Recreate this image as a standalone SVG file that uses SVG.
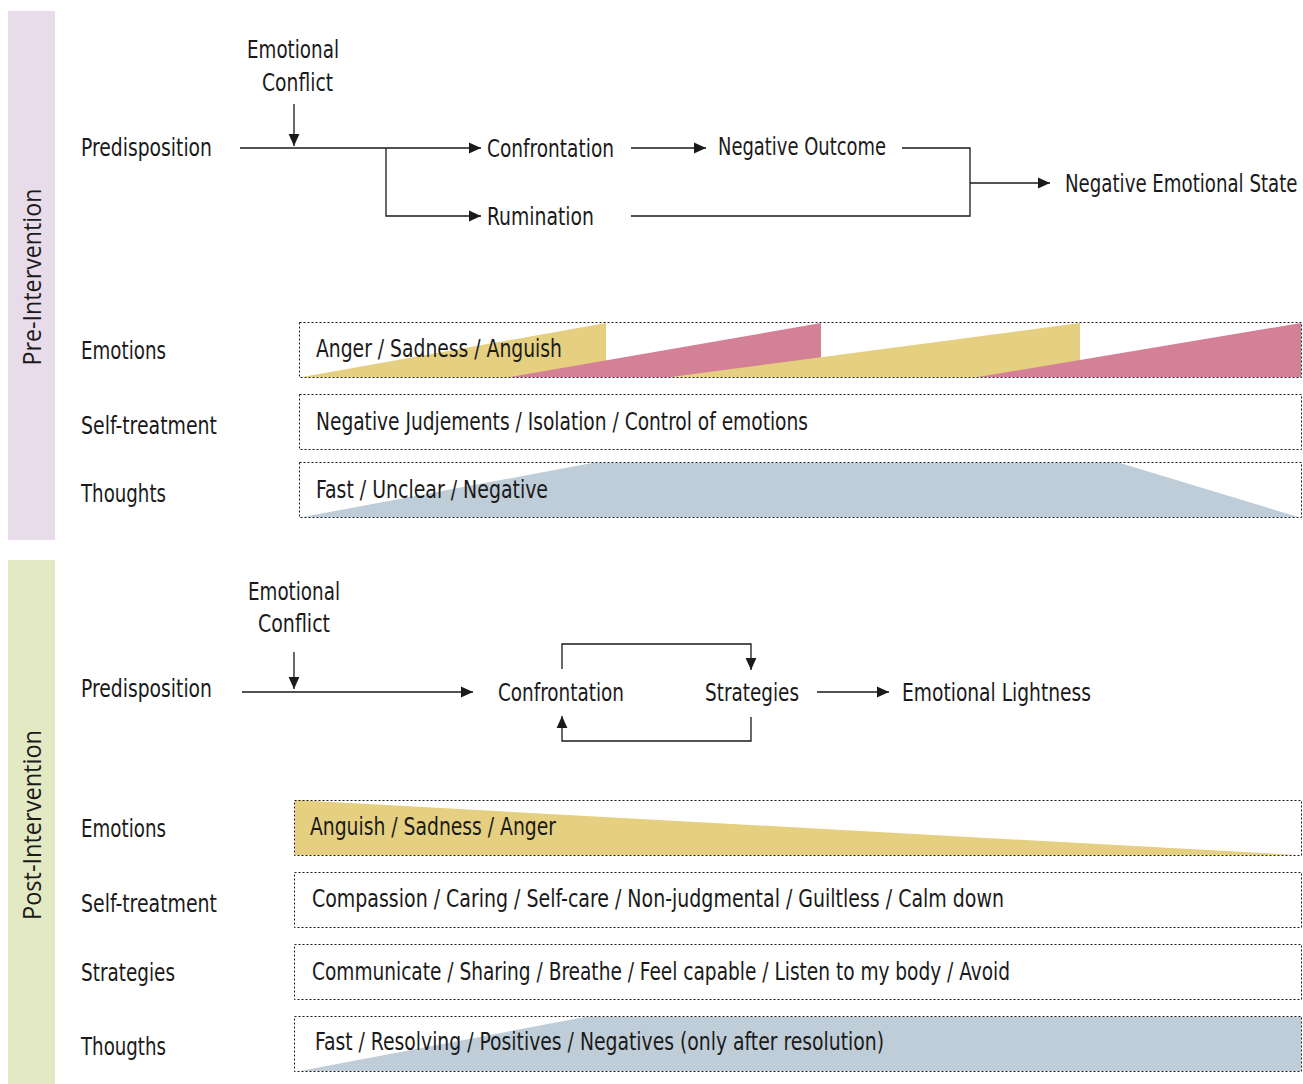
<svg xmlns="http://www.w3.org/2000/svg" width="1303" height="1084" viewBox="0 0 1303 1084">
<style>
  .t { font-family: "Liberation Sans Narrow", "DejaVu Sans Condensed", sans-serif; font-size: 25px; fill: #1a1a1a; }
  .side { font-family: "Open Sans", "Noto Sans", sans-serif; font-size: 26px; fill: #1a1a1a; }
  .box { fill: none; stroke: #1a1a1a; stroke-width: 1; stroke-dasharray: 2 2; }
  .conn { fill: none; stroke: #1a1a1a; stroke-width: 1.3; }
  .yel { fill: #e5cf80; }
  .pink { fill: #d48096; }
  .blue { fill: #bfcdd8; }
</style>
<defs>
  <marker id="arr" markerUnits="userSpaceOnUse" markerWidth="12" markerHeight="12" viewBox="0 0 10 10" refX="10" refY="5" orient="auto">
    <path d="M0,0.5 L10,5 L0,9.5 z" fill="#1a1a1a"/>
  </marker>
</defs>
<rect width="1303" height="1084" fill="#ffffff"/>

<g id="pre-section">
  <rect x="8" y="11" width="47" height="529" fill="#e8dcea"/>
  <text class="side" transform="translate(41,277) rotate(-90)" text-anchor="middle" textLength="177" lengthAdjust="spacingAndGlyphs">Pre-Intervention</text>
</g>
<g id="post-section">
  <rect x="8" y="560" width="47" height="524" fill="#e3e9c3"/>
  <text class="side" transform="translate(41,825) rotate(-90)" text-anchor="middle" textLength="190" lengthAdjust="spacingAndGlyphs">Post-Intervention</text>
</g>

<!-- Pre-intervention flow nodes -->
<g id="pre-emotional-conflict">
  <text class="t" x="247" y="58" textLength="92" lengthAdjust="spacingAndGlyphs">Emotional</text>
  <text class="t" x="262" y="91" textLength="71" lengthAdjust="spacingAndGlyphs">Conflict</text>
</g>
<g id="pre-predisposition"><text class="t" x="81" y="156" textLength="131" lengthAdjust="spacingAndGlyphs">Predisposition</text></g>
<g id="pre-confrontation"><text class="t" x="487" y="157" textLength="127" lengthAdjust="spacingAndGlyphs">Confrontation</text></g>
<g id="pre-rumination"><text class="t" x="487" y="225" textLength="107" lengthAdjust="spacingAndGlyphs">Rumination</text></g>
<g id="pre-negative-outcome"><text class="t" x="718" y="155" textLength="168" lengthAdjust="spacingAndGlyphs">Negative Outcome</text></g>
<g id="pre-negative-emotional-state"><text class="t" transform="translate(1065,192) scale(0.76,1)" x="0" y="0" textLength="306" lengthAdjust="spacingAndGlyphs">Negative Emotional State</text></g>

<!-- Pre-intervention rows -->
<g id="pre-emotions">
  <text class="t" x="81" y="359" textLength="85" lengthAdjust="spacingAndGlyphs">Emotions</text>
  <polygon class="yel" points="302,377 606,323 606,377"/>
  <polygon class="pink" points="510,377 821,323 821,377"/>
  <polygon class="yel" points="671,377 1080,323 1080,377"/>
  <polygon class="pink" points="978,377 1301,323 1301,377"/>
  <rect class="box" x="299.5" y="322.5" width="1002" height="55"/>
  <text class="t" x="316" y="357" textLength="246" lengthAdjust="spacingAndGlyphs">Anger / Sadness / Anguish</text>
</g>
<g id="pre-self-treatment">
  <text class="t" x="81" y="434" textLength="136" lengthAdjust="spacingAndGlyphs">Self-treatment</text>
  <rect class="box" x="299.5" y="394.5" width="1002" height="55"/>
  <text class="t" x="316" y="430" textLength="492" lengthAdjust="spacingAndGlyphs">Negative Judjements / Isolation / Control of emotions</text>
</g>
<g id="pre-thoughts">
  <text class="t" x="81" y="502" textLength="85" lengthAdjust="spacingAndGlyphs">Thoughts</text>
  <polygon class="blue" points="303,517 592,463 1120,463 1298,517"/>
  <rect class="box" x="299.5" y="462.5" width="1002" height="55"/>
  <text class="t" x="316" y="498" textLength="232" lengthAdjust="spacingAndGlyphs">Fast / Unclear / Negative</text>
</g>

<!-- Post-intervention flow nodes -->
<g id="post-emotional-conflict">
  <text class="t" x="248" y="600" textLength="92" lengthAdjust="spacingAndGlyphs">Emotional</text>
  <text class="t" x="258" y="632" textLength="72" lengthAdjust="spacingAndGlyphs">Conflict</text>
</g>
<g id="post-predisposition"><text class="t" x="81" y="697" textLength="131" lengthAdjust="spacingAndGlyphs">Predisposition</text></g>
<g id="post-confrontation"><text class="t" x="498" y="701" textLength="126" lengthAdjust="spacingAndGlyphs">Confrontation</text></g>
<g id="post-strategies"><text class="t" x="705" y="701" textLength="94" lengthAdjust="spacingAndGlyphs">Strategies</text></g>
<g id="post-emotional-lightness"><text class="t" x="902" y="701" textLength="189" lengthAdjust="spacingAndGlyphs">Emotional Lightness</text></g>

<!-- Post-intervention rows -->
<g id="post-emotions">
  <text class="t" x="81" y="837" textLength="85" lengthAdjust="spacingAndGlyphs">Emotions</text>
  <polygon class="yel" points="295,800 1298,855 295,855"/>
  <rect class="box" x="294.5" y="800.5" width="1007" height="55"/>
  <text class="t" x="310" y="835" textLength="246" lengthAdjust="spacingAndGlyphs">Anguish / Sadness / Anger</text>
</g>
<g id="post-self-treatment">
  <text class="t" x="81" y="912" textLength="136" lengthAdjust="spacingAndGlyphs">Self-treatment</text>
  <rect class="box" x="294.5" y="872.5" width="1007" height="55"/>
  <text class="t" x="312" y="907" textLength="692" lengthAdjust="spacingAndGlyphs">Compassion / Caring / Self-care / Non-judgmental / Guiltless / Calm down</text>
</g>
<g id="post-strategies-row">
  <text class="t" x="81" y="981" textLength="94" lengthAdjust="spacingAndGlyphs">Strategies</text>
  <rect class="box" x="294.5" y="944.5" width="1007" height="55"/>
  <text class="t" x="312" y="980" textLength="698" lengthAdjust="spacingAndGlyphs">Communicate / Sharing / Breathe / Feel capable / Listen to my body / Avoid</text>
</g>
<g id="post-thougths">
  <text class="t" x="81" y="1055" textLength="85" lengthAdjust="spacingAndGlyphs">Thougths</text>
  <polygon class="blue" points="300,1071 585,1017 1301,1017 1301,1071"/>
  <rect class="box" x="294.5" y="1016.5" width="1007" height="55"/>
  <text class="t" x="315" y="1050" textLength="569" lengthAdjust="spacingAndGlyphs">Fast / Resolving / Positives / Negatives (only after resolution)</text>
</g>

<g id="connectors">
  <path class="conn" d="M294,104 V146" marker-end="url(#arr)"/>
  <path class="conn" d="M240,148 H481" marker-end="url(#arr)"/>
  <path class="conn" d="M386,148 V216 H481" marker-end="url(#arr)"/>
  <path class="conn" d="M631,148 H706" marker-end="url(#arr)"/>
  <path class="conn" d="M902,148 H970 V216 H631"/>
  <path class="conn" d="M970,183 H1050" marker-end="url(#arr)"/>

  <path class="conn" d="M294,652 V689" marker-end="url(#arr)"/>
  <path class="conn" d="M242,692 H473" marker-end="url(#arr)"/>
  <path class="conn" d="M562,669 V644 H751 V670" marker-end="url(#arr)"/>
  <path class="conn" d="M751,717 V741 H562 V716" marker-end="url(#arr)"/>
  <path class="conn" d="M817,692 H889" marker-end="url(#arr)"/>
</g>
</svg>
